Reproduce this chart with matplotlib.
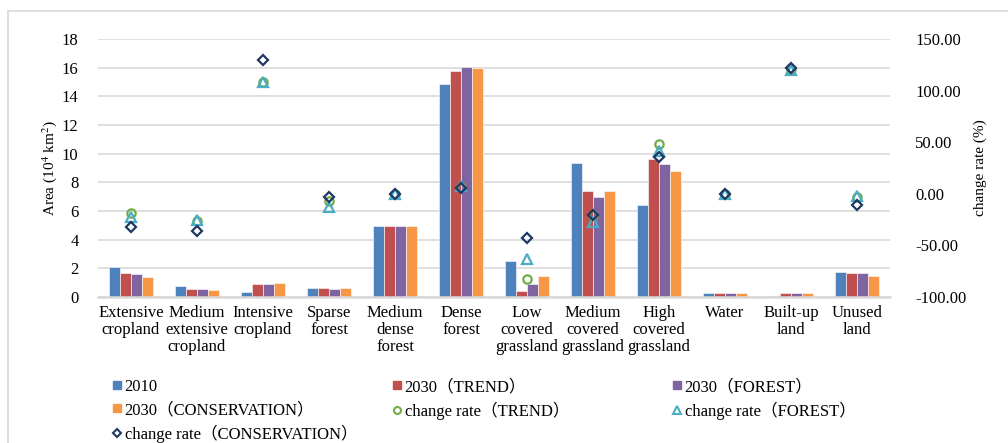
import numpy as np
import matplotlib.pyplot as plt
from matplotlib.lines import Line2D

plt.rcParams['font.family'] = ['Liberation Serif', 'Noto Sans CJK SC', 'DejaVu Sans']
plt.rcParams['mathtext.fontset'] = 'stix'

# データ
categories = ["Extensive\ncropland", "Medium\nextensive\ncropland", "Intensive\ncropland",
              "Sparse\nforest", "Medium\ndense\nforest", "Dense\nforest",
              "Low\ncovered\ngrassland", "Medium\ncovered\ngrassland", "High\ncovered\ngrassland",
              "Water", "Built-up\nland", "Unused\nland"]

area_2010 = [2.08, 0.80, 0.37, 0.65, 4.95, 14.85, 2.52, 9.35, 6.45, 0.30, 0.10, 1.72]
area_trend = [1.68, 0.58, 0.88, 0.63, 4.95, 15.80, 0.42, 7.42, 9.60, 0.30, 0.25, 1.65]
area_forest = [1.62, 0.58, 0.88, 0.58, 4.95, 16.08, 0.90, 6.97, 9.28, 0.30, 0.25, 1.70]
area_cons = [1.38, 0.49, 0.98, 0.65, 4.95, 15.95, 1.45, 7.40, 8.78, 0.30, 0.25, 1.50]

rate_trend = [-18.5, -26.0, 108.5, -6.5, -0.5, 6.5, -83.0, -20.5, 47.8, -0.5, 121.0, -3.0]
rate_forest = [-22.0, -25.5, 108.5, -12.5, -0.5, 7.5, -63.0, -27.0, 41.0, -0.5, 120.0, -2.0]
rate_cons = [-32.5, -36.5, 129.5, -3.0, -0.5, 6.0, -42.5, -21.0, 35.5, -0.5, 121.5, -10.5]

bar_colors = ["#4F81BD", "#C0504D", "#8064A2", "#F79646"]
bar_labels = ["2010", "2030（TREND）", "2030（FOREST）", "2030（CONSERVATION）"]
rate_labels = ["change rate（TREND）", "change rate（FOREST）", "change rate（CONSERVATION）"]

fig = plt.figure(figsize=(10.08, 4.43), dpi=100)
ax = fig.add_axes([98/1008, 1-297/443, 792/1008, 258/443])
ax2 = ax.twinx()

x = np.arange(len(categories))
w = 0.164
for k, (vals, col) in enumerate(zip([area_2010, area_trend, area_forest, area_cons], bar_colors)):
    ax.bar(x + (k - 1.5) * w, vals, w, color=col, edgecolor="white", linewidth=0.4, zorder=2)

ax.set_xlim(-0.5, len(categories) - 0.5)
ax.set_ylim(0, 18)
ax.set_yticks(np.arange(0, 19, 2))
ax.yaxis.grid(True, color="#D9D9D9", linewidth=1.2, zorder=0)
ax.set_axisbelow(True)
for s in ["top", "right", "left"]:
    ax.spines[s].set_visible(False)
ax.spines["bottom"].set_color("#D9D9D9")
ax.spines["bottom"].set_linewidth(1.8)
ax.tick_params(axis="both", length=0, labelsize=12)
ax.tick_params(axis="y", pad=14)
ax.tick_params(axis="x", pad=6)
ax.set_xticks(x)
ax.set_xticklabels(categories, linespacing=1.05)
ax.set_ylabel("Area (10$^{4}$ km$^{2}$)", fontsize=11, labelpad=2)

# 散布図
ax2.plot(x, rate_trend, "o", ms=6, mfc="none", mec="#70AD47", mew=1.6, zorder=3)
ax2.plot(x, rate_forest, "^", ms=6.5, mfc="none", mec="#4BACC6", mew=1.6, zorder=4)
ax2.plot(x, rate_cons, "D", ms=5, mfc="none", mec="#203864", mew=1.6, zorder=5)
ax2.set_ylim(-100, 150)
ax2.set_yticks(np.arange(-100, 151, 50))
ax2.set_yticklabels(["%.2f" % v for v in np.arange(-100, 151, 50)])
for s in ax2.spines.values():
    s.set_visible(False)
ax2.tick_params(axis="y", length=0, labelsize=12, pad=18)
ax2.set_ylabel("change rate (%)", fontsize=11, labelpad=5)

# 凡例
h_bars = [Line2D([], [], ls="none", marker="s", ms=5.5, mfc=c, mec=c) for c in bar_colors]
h_rates = [Line2D([], [], ls="none", marker="o", ms=5, mfc="none", mec="#70AD47", mew=1.5),
           Line2D([], [], ls="none", marker="^", ms=5.5, mfc="none", mec="#4BACC6", mew=1.5),
           Line2D([], [], ls="none", marker="D", ms=4.5, mfc="none", mec="#203864", mew=1.5)]
handles = h_bars + h_rates
labels = bar_labels + rate_labels
cols = [[0, 3, 6], [1, 4], [2, 5]]
col_x = [113, 393, 673]
for cx, idx in zip(col_x, cols):
    fig.legend([handles[i] for i in idx], [labels[i] for i in idx],
               loc="upper left", bbox_to_anchor=(cx/1008, 1-379/443),
               frameon=False, fontsize=12, handlelength=0.5, handletextpad=0.2,
               labelspacing=0.42, borderpad=0, borderaxespad=0)

# 枠線
fig.add_artist(Line2D([8/1008, 8/1008], [0, 1-11/443], color="#D9D9D9", lw=1.2))
fig.add_artist(Line2D([8/1008, 1], [1-11/443, 1-11/443], color="#D9D9D9", lw=1.2))

plt.savefig("out.png", dpi=100)
plt.close()
